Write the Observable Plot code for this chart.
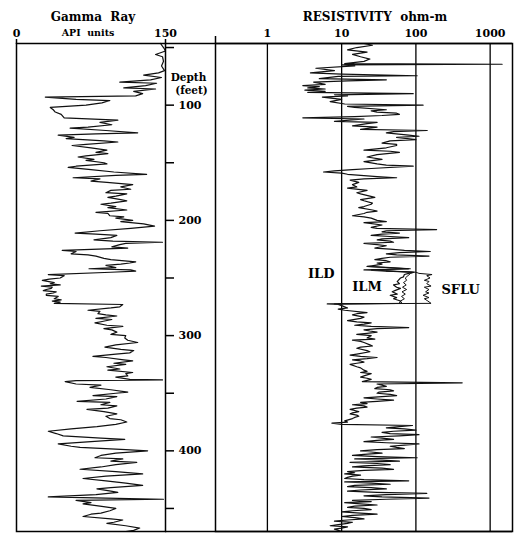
<!DOCTYPE html>
<html><head><meta charset="utf-8">
<script src="https://cdn.jsdelivr.net/npm/d3@7"></script>
<script src="https://cdn.jsdelivr.net/npm/@observablehq/plot@0.6"></script>
<style>
html,body{margin:0;padding:0;background:#fff;}
#chart{position:relative;width:524px;height:544px;background:#fff;}
#chart svg{position:absolute;left:0;top:0;}
</style></head><body><div id="chart"></div>
<script>
// ---- tick labels ----
const depthTicks = [50,100,150,200,250,300,350,400,450];
const gammaTicks = [0,150];
const resTicks = [1,10,100,1000];
const depthDomain = [46.5, 470];

// ---- Gamma Ray (API units) vs depth (feet) ----
const gammaDepth = [46.5,50,53,56,58,62,66,70,72,74,76,78,80,81,83,85,86,88,90,92,93,95,96,98,100,102,104,106,108,111,113,115,117,119,120,122,124,125,126,128,129,131,132,134,135,137,139,141,142,144,145,147,148,150,151,153,154,156,158,160,161,163,164,166,167,169,171,173,174,176,177,179,180,182,183,185,186,188,189,191,193,194,196,197,198,200,201,203,205,207,209,211,212,213,215,217,218,219,220,221,223,224,226,227,229,230,231,233,234,236,237,238,239,241,242,243,244,245,247,248,250,251,252,254,255,256,257,258,259,260,261,262,263,264,265,266,268,269,270,271,272,273,275,276,278,279,281,282,283,285,286,288,289,291,292,294,295,297,299,300,302,304,306,308,310,312,313,315,316,318,319,321,322,324,325,327,329,330,332,333,335,336,338,338.5,339,340,342,343,345,347,349,350,352,353,355,357,358,360,361,363,364,366,368,370,372,373,375,377,379,381,383,385,387,389,390,392,394,396,397,399,400,402,404,406,407,409,410,412,414,416,418,420,422,424,426,428,430,432,433,435,436,438,440,441,442,443,445,446,448,450,452,454,455,457,459,460,462,463,465,467,469,470];
const gammaAPI = [145,148,150,140,147,148,146,149,143,128,146,135,104,141,130,108,140,118,127,120,29,60,94,86,70,34,37,39,45,48,102,84,96,72,54,90,122,80,42,58,50,88,102,70,56,75,91,80,92,70,62,78,70,88,91,60,52,75,98,131,100,57,84,75,91,117,105,115,95,90,111,100,92,105,111,95,85,100,92,111,80,92,94,108,100,117,105,128,139,115,84,59,80,101,95,78,97,147,110,104,96,112,46,60,55,72,80,88,95,120,114,105,90,100,73,115,120,95,32,48,44,33,26,38,34,44,25,36,35,30,27,40,37,30,30,42,38,45,36,44,38,107,104,95,72,84,82,90,101,80,96,85,79,91,107,88,96,101,95,110,109,112,122,100,89,105,118,114,100,77,90,108,117,98,110,91,104,92,117,110,112,100,114,147,60,49,60,85,74,95,112,100,77,101,90,61,94,85,101,92,71,88,101,90,94,105,111,100,81,55,32,40,47,85,109,75,42,55,64,110,132,100,85,79,107,95,121,100,85,64,100,127,90,67,90,110,127,95,81,95,102,80,32,90,148,60,75,67,84,100,94,85,75,67,95,107,98,91,110,124,118,110];

// ---- Resistivity (ohm-m) vs depth ----
const ildDepth = [46.5,48,50,52,54,56,58,60,62,64,64.5,65,66,68,70,72,73,74.5,75,77,78,79,80,82,83,84,85,86,87,88,89,90,91,92,93,95,97,99,100,101,102,104,105,106,107,108,109,110,111,112,114,115,116,118,119,121,122,123,124,126,127,128,130,131,133,134,135,137,139,140,141,143,145,147,149,151,152,153,155,156,157,158,159,160,162,163,164,165,167,169,171,172,174,176,177,179,180,182,183,185,186,188,189,191,192,193,194,196,197,198,200,201,202,204,206,207,208,209,210,211,212,213,214,215,216,217,218,219,220,221,222,224,225,226,227,228,229,230,231,232,233,234,235,236,237,238,239,240,241,242,243,244,245,246,247,249,250,252,253,255,256,258,259,261,262,264,265,267,268,270,272,272.5,273,274,276,277,278,280,281,282,284,285,287,288,289,290,291,292,293,294,295,296,297,298,299,300,302,303,304,305,306,308,309,310,311,313,314,316,317,318,319,320,321,322,323,324,325,327,328,330,331,332,333,335,336,337,338,340,341,342,343,344,345,346,347,348,349,350,351,352,353,354,355,356,357,358,359,360,361,362,363,364,365,366,367,368,369,370,371,372,374,375,376,377,378,379,380,381,382,383,384,385,386,387,388,389,390,391,392,393,394,395,396,397,398,399,400,401,402,403,404,405,406,407,408,409,410,411,412,413,414,415,416,417,418,419,420,421,422,423,424,425,426,427,428,429,430,431,432,433,434,435,436,437,438,439,440,441,442,443,444,445,446,447,448,449,450,451,452,453,454,455,456,457,458,459,460,461,462,463,464,465,466,467,468,469,470];
const ildRes = [20,26,16,12,22,14,18,24,20,11,1450,10,15,4.5,8,3.8,10,104,9,5,40,12,4.2,6,3,5,3.5,6,3.2,6,3.5,92,8,12,5.5,10,7,11,125,12,15,40,25,30,55,60,35,15,3,20,8,30,22,14,30,18,142,50,40,80,110,55,100,45,35,55,55,40,20,45,60,30,22,35,20,30,40,92,25,14,8,5.7,10,12,30,55,20,13,17,14,16,12,22,16,18,24,28,18,20,26,25,20,17,26,30,22,20,14,20,25,30,40,20,35,25,30,190,40,35,60,35,25,45,80,35,30,45,50,20,30,40,28,45,70,156,60,40,55,150,45,35,28,40,45,30,35,28,22,45,84,20,40,90,80,70,68,62,58,56,60,50,55,62,52,48,56,45,55,50,62,60,6.4,9,10,12,9,11,22,16,14,20,18,12,16,25,20,15,25,80,30,20,24,30,22,16,25,22,28,14,18,20,24,26,18,16,22,24,16,13,18,30,22,14,18,20,16,13,16,18,20,22,18,25,20,18,22,25,19,420,30,35,40,30,28,45,50,32,30,45,55,35,20,30,50,30,18,22,14,20,22,16,13,15,17,14,13,16,17,15,14,11,12,7.4,10,90,60,40,70,100,50,35,45,110,60,25,35,50,30,20,40,110,70,45,55,70,30,18,25,35,20,14,30,104,15,35,60,13,30,45,20,14,35,50,20,12,15,11,18,14,12,11,20,80,11,25,45,15,12,25,40,18,12,30,140,40,20,35,150,40,14,25,11,18,30,15,12,20,25,14,10,18,30,14,10,15,20,12,8,14,12,9,7,12,10,8,9,10];

const ilmDepth = [240,242,243,245,246,248,250,252,254,256,258,260,262,264,266,268,270,272,272.5];
const ilmRes = [22,80,25,95,85,78,72,75,68,74,66,75,65,72,64,70,62,65,8];

const sfluDepth = [244,245,246,247,248,250,252,253,255,257,258,260,262,263,265,267,268,270,272,272.5];
const sfluRes = [40,100,110,165,140,155,130,150,140,160,130,150,135,150,125,150,130,145,160,9];

// ---- curve labels ----
const curveNames = ["ILD","ILM","SFLU"];
const curveLabelDepth = [246,258,260];
const curveLabelRes = [5.3,22,400];

// ---- build tables ----
const gamma = gammaDepth.map((d,i)=>({depth:d, value:gammaAPI[i]}));
const ild = ildDepth.map((d,i)=>({depth:d, value:ildRes[i]}));
const ilm = ilmDepth.map((d,i)=>({depth:d, value:ilmRes[i]}));
const sflu = sfluDepth.map((d,i)=>({depth:d, value:sfluRes[i]}));
const labels = curveNames.map((n,i)=>({name:n, depth:curveLabelDepth[i], value:curveLabelRes[i]}));

const W = 524, H = 544;
const baseStyle = {background:"transparent", fontFamily:"'DejaVu Serif', serif", fontWeight:"bold", fontSize:"11px", color:"black"};
const yOpt = {domain: depthDomain, reverse: true, axis: null};

const plotA = Plot.plot({
  width: W, height: H, marginLeft: 16, marginRight: 359, marginTop: 43, marginBottom: 13,
  style: baseStyle,
  x: {domain: [0,150], axis: null},
  y: yOpt,
  marks: [
    Plot.line(gamma, {x:"value", y:"depth", stroke:"#111", strokeWidth:1.2}),
    Plot.frame({stroke:"black", strokeWidth:1.5}),
    Plot.axisX(gammaTicks, {anchor:"top", label:null, tickSize:5, tickPadding:2, strokeWidth:1.5}),
    Plot.axisY(depthTicks, {anchor:"right", label:null, tickSize:8, tickPadding:5, strokeWidth:1.5, tickFormat: d => d % 100 === 0 ? String(d) : ""}),
    Plot.text(["Gamma  Ray"], {frameAnchor:"top", dx:2, dy:-26, lineAnchor:"middle", fontSize:12}),
    Plot.text(["API  units"], {frameAnchor:"top", dx:-3, dy:-11, lineAnchor:"middle", fontSize:9.5}),
    Plot.text(["Depth"], {frameAnchor:"top-right", dx:23, dy:34, textAnchor:"middle", lineAnchor:"middle", fontSize:10.5}),
    Plot.text(["(feet)"], {frameAnchor:"top-right", dx:26, dy:47, textAnchor:"middle", lineAnchor:"middle", fontSize:10.5})
  ]
});

const plotB = Plot.plot({
  width: W, height: H, marginLeft: 215, marginRight: 12, marginTop: 43, marginBottom: 13,
  style: baseStyle,
  x: {type:"log", domain:[0.2,2000], axis:null},
  y: yOpt,
  marks: [
    Plot.ruleX(resTicks, {stroke:"black", strokeWidth:1.3}),
    Plot.line(ild, {x:"value", y:"depth", stroke:"#111", strokeWidth:1.2}),
    Plot.line(ilm, {x:"value", y:"depth", stroke:"#111", strokeWidth:1}),
    Plot.line(sflu, {x:"value", y:"depth", stroke:"#111", strokeWidth:1}),
    Plot.frame({stroke:"black", strokeWidth:1.5}),
    Plot.ruleY(depthDomain, {insetLeft:-50, stroke:"black", strokeWidth:1.5}),
    Plot.axisX(resTicks, {anchor:"top", label:null, tickSize:0, tickPadding:7, tickFormat: d => String(d)}),
    Plot.axisX([0.2], {anchor:"top", label:null, tickSize:8, strokeWidth:1.5, tickFormat: () => ""}),
    Plot.text(labels, {x:"value", y:"depth", text:"name", fontSize:13}),
    Plot.text(["RESISTIVITY  ohm-m"], {frameAnchor:"top", dx:11, dy:-26, lineAnchor:"middle", fontSize:12})
  ]
});

const chart = document.getElementById("chart");
chart.appendChild(plotA);
chart.appendChild(plotB);
</script></body></html>
